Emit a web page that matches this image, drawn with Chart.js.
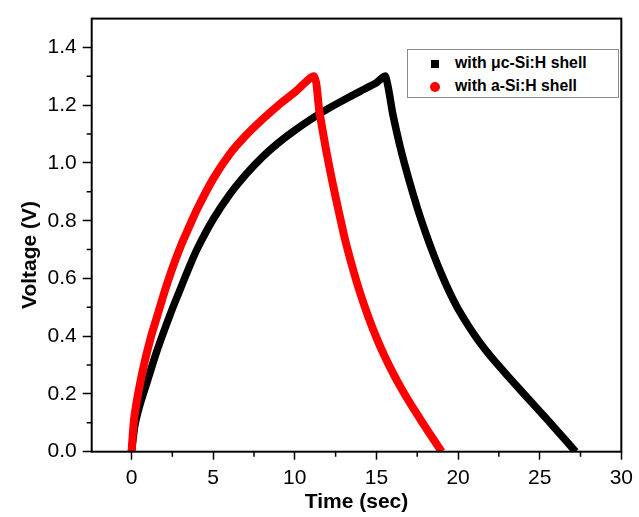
<!DOCTYPE html>
<html lang="en">
<head>
<meta charset="UTF-8">
<title>Voltage vs Time</title>
<script src="https://cdn.jsdelivr.net/npm/chart.js"></script>
<style>
    body {
        margin: 0;
        padding: 0;
        background: #fff;
        font-family: Arial, "Liberation Sans", sans-serif;
    }
    .wrap {
        position: relative;
        width: 639px;
        height: 517px;
    }
    #yTitle {
        position: absolute;
        left: 29px;
        top: 255px;
        transform: translate(-50%, -50%) rotate(-90deg);
        font-weight: bold;
        font-size: 21px;
        white-space: nowrap;
    }
    .legend {
        position: absolute;
        left: 407px;
        top: 49px;
        width: 212px;
        height: 49px;
        border: 1px solid #8a8a8a;
        box-sizing: border-box;
        background: #fff;
        font-weight: bold;
        font-size: 15.8px;
    }
    .legend div {
        position: absolute;
        left: 47px;
        line-height: 18px;
        white-space: nowrap;
    }
    .mark {
        position: absolute;
    }
</style>
</head>
<body>
<div class="wrap">
    <canvas id="chart" width="639" height="517"></canvas>
    <div id="yTitle">Voltage (V)</div>
    <div class="legend">
        <span class="mark" style="left:23px;top:10px;width:8px;height:8px;background:#000"></span>
        <div style="top:4px">with μc-Si:H shell</div>
        <span class="mark" style="left:22px;top:32px;width:10px;height:10px;border-radius:50%;background:#ff0000"></span>
        <div style="top:27px">with a-Si:H shell</div>
    </div>
</div>

<script>
    // with uc-Si:H shell (black)
    const timeMuc = [0, 0.2, 0.5, 1.0, 1.5, 2.0, 2.5, 3.0, 3.5, 4.0, 5.0, 6.0, 7.0, 8.0, 9.0, 10.0, 11.0, 12.0, 13.0, 14.0, 15.0, 15.55,
        16.0, 16.5, 17.0, 17.5, 18.0, 18.5, 19.0, 19.5, 20.0, 21.0, 22.0, 23.0, 24.0, 25.0, 26.0, 27.2];
    const voltMuc = [0, 0.09, 0.16, 0.25, 0.34, 0.42, 0.495, 0.565, 0.635, 0.70, 0.805, 0.89, 0.96, 1.02, 1.07, 1.113, 1.152, 1.187, 1.218, 1.248, 1.278, 1.30,
        1.17, 1.045, 0.94, 0.845, 0.76, 0.683, 0.613, 0.55, 0.495, 0.405, 0.33, 0.265, 0.202, 0.14, 0.077, 0];

    // with a-Si:H shell (red)
    const timeA = [0, 0.15, 0.4, 0.8, 1.2, 1.6, 2.0, 2.5, 3.0, 3.5, 4.0, 5.0, 6.0, 7.0, 8.0, 9.0, 10.0, 11.18,
        11.5, 11.9, 12.3, 12.7, 13.1, 13.5, 14.0, 14.5, 15.0, 15.5, 16.0, 16.5, 17.0, 17.5, 18.0, 18.5, 19.0];
    const voltA = [0, 0.11, 0.20, 0.31, 0.40, 0.475, 0.55, 0.635, 0.71, 0.775, 0.838, 0.945, 1.03, 1.095, 1.15, 1.20, 1.245, 1.30,
        1.18, 1.05, 0.935, 0.83, 0.73, 0.645, 0.55, 0.468, 0.395, 0.331, 0.274, 0.222, 0.174, 0.129, 0.085, 0.042, 0];

    const xMajor = [0, 5, 10, 15, 20, 25, 30];
    const xMinor = [2.5, 7.5, 12.5, 17.5, 22.5, 27.5];
    const yMajor = [0, 0.2, 0.4, 0.6, 0.8, 1.0, 1.2, 1.4];
    const yMinor = [0.1, 0.3, 0.5, 0.7, 0.9, 1.1, 1.3];

    const toPoints = (xs, ys) => xs.map((x, i) => ({ x: x, y: ys[i] }));
    const FONT = 'Arial, "Liberation Sans", sans-serif';

    // frame + minor ticks
    const frame = {
        id: 'frame',
        afterDraw(chart) {
            const { ctx, chartArea: a, scales: { x, y } } = chart;
            ctx.save();
            ctx.strokeStyle = '#000';
            ctx.lineWidth = 2;
            ctx.strokeRect(a.left, a.top, a.right - a.left, a.bottom - a.top);
            ctx.beginPath();
            ctx.lineWidth = 1.5;
            xMinor.forEach(v => {
                const p = x.getPixelForValue(v);
                ctx.moveTo(p, a.bottom);
                ctx.lineTo(p, a.bottom + 5);
            });
            yMinor.forEach(v => {
                const p = y.getPixelForValue(v);
                ctx.moveTo(a.left, p);
                ctx.lineTo(a.left - 5, p);
            });
            ctx.stroke();
            ctx.restore();
        }
    };

    new Chart(document.getElementById('chart'), {
        type: 'scatter',
        data: {
            datasets: [{
                label: 'with μc-Si:H shell',
                data: toPoints(timeMuc, voltMuc),
                showLine: true,
                borderColor: '#000',
                backgroundColor: '#000',
                borderWidth: 7.5,
                pointRadius: 0,
                tension: 0.2,
                clip: 0,
                order: 1
            }, {
                label: 'with a-Si:H shell',
                data: toPoints(timeA, voltA),
                showLine: true,
                borderColor: '#ff0000',
                backgroundColor: '#ff0000',
                borderWidth: 8,
                pointRadius: 0,
                tension: 0.2,
                clip: 0,
                order: 0
            }]
        },
        options: {
            responsive: false,
            animation: false,
            layout: { padding: { top: 15.7, right: 15.3, left: 0, bottom: 0 } },
            plugins: {
                legend: { display: false },
                tooltip: { enabled: false }
            },
            scales: {
                x: {
                    type: 'linear',
                    min: -2.44,
                    max: 30,
                    afterBuildTicks: s => { s.ticks = xMajor.map(v => ({ value: v })); },
                    afterFit: s => { s.height = 517 - 451.7; },
                    grid: { drawOnChartArea: false, tickLength: 8, tickWidth: 1.5, color: '#000' },
                    border: { display: false },
                    ticks: {
                        color: '#000',
                        padding: 6,
                        maxRotation: 0,
                        font: { family: FONT, size: 21 }
                    },
                    title: {
                        display: true,
                        text: 'Time (sec)',
                        color: '#000',
                        padding: { top: 0, bottom: 2 },
                        font: { family: FONT, size: 21, weight: 'bold' }
                    }
                },
                y: {
                    min: 0,
                    max: 1.5,
                    afterBuildTicks: s => { s.ticks = yMajor.map(v => ({ value: v })); },
                    afterFit: s => { s.width = 91.7; },
                    grid: { drawOnChartArea: false, tickLength: 9, tickWidth: 1.5, color: '#000' },
                    border: { display: false },
                    ticks: {
                        color: '#000',
                        padding: 6,
                        font: { family: FONT, size: 21 },
                        callback: v => v.toFixed(1)
                    }
                }
            }
        },
        plugins: [frame]
    });
</script>
</body>
</html>
